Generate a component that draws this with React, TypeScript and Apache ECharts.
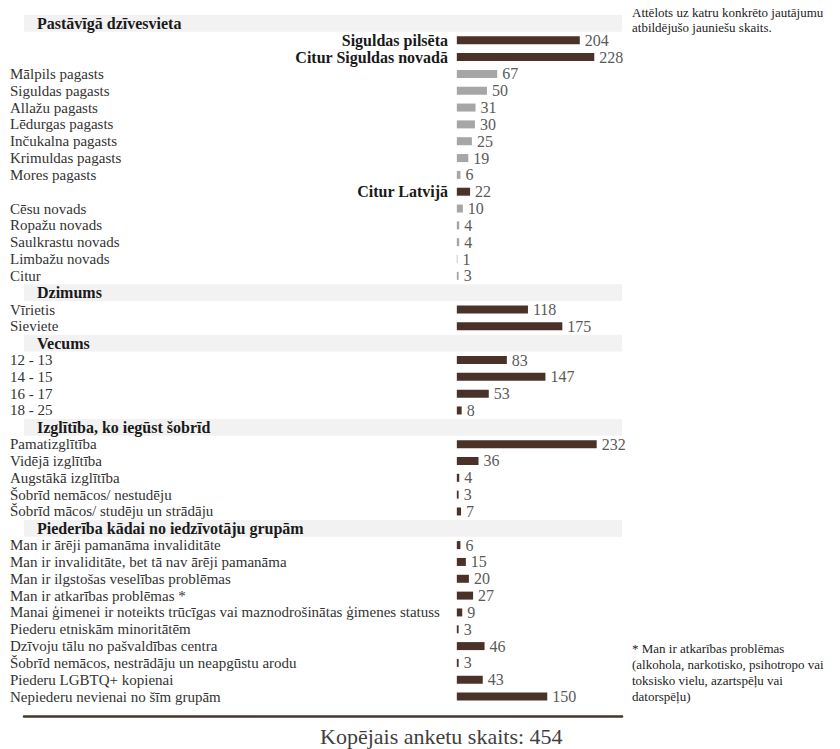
import React, { useEffect, useRef } from "react";
import * as echarts from "echarts";

const FONT = "Liberation Serif";

const sectionTitles = [
  "Pastāvīgā dzīvesvieta",
  "Dzimums",
  "Vecums",
  "Izglītība, ko iegūst šobrīd",
  "Piederība kādai no iedzīvotāju grupām",
];

const residenceCategories = [
  "Siguldas pilsēta",
  "Citur Siguldas novadā",
  "Mālpils pagasts",
  "Siguldas pagasts",
  "Allažu pagasts",
  "Lēdurgas pagasts",
  "Inčukalna pagasts",
  "Krimuldas pagasts",
  "Mores pagasts",
  "Citur Latvijā",
  "Cēsu novads",
  "Ropažu novads",
  "Saulkrastu novads",
  "Limbažu novads",
  "Citur",
];
const residenceValues = [204, 228, 67, 50, 31, 30, 25, 19, 6, 22, 10, 4, 4, 1, 3];
const residenceTotals = ["Siguldas pilsēta", "Citur Siguldas novadā", "Citur Latvijā"];

const genderCategories = ["Vīrietis", "Sieviete"];
const genderValues = [118, 175];

const ageCategories = ["12 - 13", "14 - 15", "16 - 17", "18 - 25"];
const ageValues = [83, 147, 53, 8];

const educationCategories = [
  "Pamatizglītība",
  "Vidējā izglītība",
  "Augstākā izglītība",
  "Šobrīd nemācos/ nestudēju",
  "Šobrīd mācos/ studēju un strādāju",
];
const educationValues = [232, 36, 4, 3, 7];

const groupCategories = [
  "Man ir ārēji pamanāma invaliditāte",
  "Man ir invaliditāte, bet tā nav ārēji pamanāma",
  "Man ir ilgstošas veselības problēmas",
  "Man ir atkarības problēmas *",
  "Manai ģimenei ir noteikts trūcīgas vai maznodrošinātas ģimenes statuss",
  "Piederu etniskām minoritātēm",
  "Dzīvoju tālu no pašvaldības centra",
  "Šobrīd nemācos, nestrādāju un neapgūstu arodu",
  "Piederu LGBTQ+ kopienai",
  "Nepiederu nevienai no šīm grupām",
];
const groupValues = [6, 15, 20, 27, 9, 3, 46, 3, 43, 150];

const totalRespondents = 454;
const noteText = "Attēlots uz katru konkrēto jautājumu\natbildējušo jauniešu skaits.";
const footnoteText =
  "* Man ir atkarības problēmas\n(alkohola, narkotisko, psihotropo vai\ntoksisko vielu, azartspēļu vai\ndatorspēļu)";

type Row = {
  label: string;
  value: number | null;
  kind: "header" | "total" | "item";
  muted: boolean;
};

const sections = [
  { title: sectionTitles[0], cats: residenceCategories, vals: residenceValues, subAreas: true },
  { title: sectionTitles[1], cats: genderCategories, vals: genderValues, subAreas: false },
  { title: sectionTitles[2], cats: ageCategories, vals: ageValues, subAreas: false },
  { title: sectionTitles[3], cats: educationCategories, vals: educationValues, subAreas: false },
  { title: sectionTitles[4], cats: groupCategories, vals: groupValues, subAreas: false },
];

const rows: Row[] = [];
sections.forEach((s) => {
  rows.push({ label: s.title, value: null, kind: "header", muted: false });
  s.cats.forEach((c, i) => {
    const isTotal = s.subAreas && residenceTotals.includes(c);
    rows.push({
      label: c,
      value: s.vals[i],
      kind: isTotal ? "total" : "item",
      muted: s.subAreas && !isTotal,
    });
  });
});

const DARK = "#4b3229";
const GRAY = "#a6a6a6";

export default function App() {
  const ref = useRef<HTMLDivElement>(null);
  useEffect(() => {
    if (!ref.current) return;
    const chart = echarts.init(ref.current, undefined, { renderer: "svg" });
    const labels = rows.map((r) => r.label);
    chart.setOption({
      animation: false,
      backgroundColor: "#ffffff",
      textStyle: { fontFamily: FONT },
      title: [
        {
          text: `Kopējais anketu skaits: ${totalRespondents}`,
          left: 320,
          top: 725,
          padding: 0,
          textStyle: { fontFamily: FONT, fontSize: 22, fontWeight: "normal", color: "#404040" },
        },
        {
          text: noteText,
          left: 632,
          top: 5,
          padding: 0,
          textStyle: { fontFamily: FONT, fontSize: 13, lineHeight: 15, fontWeight: "normal", color: "#222222" },
        },
        {
          text: footnoteText,
          left: 632,
          top: 640,
          padding: 0,
          textStyle: { fontFamily: FONT, fontSize: 13, lineHeight: 16, fontWeight: "normal", color: "#222222" },
        },
      ],
      grid: { left: 24, right: 218, top: 15, height: 690, containLabel: false },
      xAxis: [
        { type: "value", min: -718, max: 274, show: false },
        {
          type: "value",
          min: 0,
          max: 1,
          position: "bottom",
          offset: 11,
          axisLine: { show: true, lineStyle: { color: DARK, width: 2.5 } },
          axisTick: { show: false },
          axisLabel: { show: false },
          splitLine: { show: false },
        },
      ],
      yAxis: [
        {
          type: "category",
          data: labels,
          inverse: true,
          z: 5,
          axisLine: { show: false },
          axisTick: { show: false },
          axisLabel: {
            interval: 0,
            align: "left",
            margin: 14,
            formatter: (v: string, idx: number) => {
              const r = rows[idx];
              if (r.kind === "header") return `{h|${v}}`;
              if (r.kind === "total") return `{t|${v}}`;
              return `{n|${v}}`;
            },
            rich: {
              h: {
                fontFamily: FONT,
                fontSize: 16,
                fontWeight: "bold",
                color: "#1a1a1a",
                padding: [0, 0, 0, 27],
              },
              t: {
                fontFamily: FONT,
                fontSize: 16,
                fontWeight: "bold",
                color: "#1a1a1a",
                width: 438,
                align: "right",
              },
              n: { fontFamily: FONT, fontSize: 15, color: "#333333" },
            },
          },
        },
        { type: "category", data: labels, inverse: true, show: false },
      ],
      series: [
        {
          type: "bar",
          xAxisIndex: 1,
          yAxisIndex: 1,
          barWidth: "100%",
          silent: true,
          itemStyle: { color: "#f2f2f2" },
          data: rows.map((r) => (r.kind === "header" ? 1 : "-")),
          z: 1,
        },
        {
          type: "bar",
          xAxisIndex: 0,
          yAxisIndex: 0,
          barWidth: 8,
          z: 3,
          label: {
            show: true,
            position: "right",
            distance: 5,
            color: "#5a5a5a",
            fontFamily: FONT,
            fontSize: 16,
          },
          data: rows.map((r) =>
            r.value === null
              ? "-"
              : { value: r.value, itemStyle: { color: r.muted ? GRAY : DARK } }
          ),
        },
      ],
    });
    return () => chart.dispose();
  }, []);
  return (
    <div
      ref={ref}
      style={{ position: "fixed", left: 0, top: 0, width: 840, height: 749 }}
    />
  );
}
